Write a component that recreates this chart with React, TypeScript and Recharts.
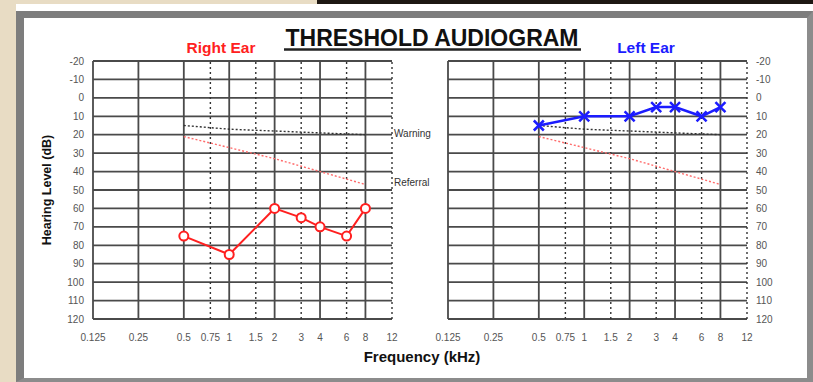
import React from "react";
import { LineChart, Line, XAxis, YAxis, CartesianGrid, ReferenceLine } from "recharts";

const FREQ_TICKS = [0.125, 0.25, 0.5, 0.75, 1, 1.5, 2, 3, 4, 6, 8, 12];
const OCTAVE_LINES = [0.125, 0.25, 0.5, 1, 2, 4, 8];
const HALF_OCTAVE_LINES = [0.75, 1.5, 3, 6, 12];
const DB_TICKS = [-20, -10, 0, 10, 20, 30, 40, 50, 60, 70, 80, 90, 100, 110, 120];

const RIGHT_EAR_FREQ = [0.5, 1, 2, 3, 4, 6, 8];
const RIGHT_EAR_DB = [75, 85, 60, 65, 70, 75, 60];

const LEFT_EAR_FREQ = [0.5, 1, 2, 3, 4, 6, 8];
const LEFT_EAR_DB = [15, 10, 10, 5, 5, 10, 5];

const WARNING_FREQ = [0.5, 1, 2, 4, 8];
const WARNING_DB = [15, 17, 18, 19, 20];

const REFERRAL_FREQ = [0.5, 1, 2, 4, 8];
const REFERRAL_DB = [21, 27, 33, 40, 47];

const FONT = "Arial, 'Liberation Sans', sans-serif";
const GRID = "#4a4a4a";

const toPoints = (freq: number[], db: number[]) => freq.map((f, i) => ({ f, db: db[i] }));

const rightEar = toPoints(RIGHT_EAR_FREQ, RIGHT_EAR_DB);
const leftEar = toPoints(LEFT_EAR_FREQ, LEFT_EAR_DB);
const warning = toPoints(WARNING_FREQ, WARNING_DB);
const referral = toPoints(REFERRAL_FREQ, REFERRAL_DB);

const tickStyle = { fontSize: 10, fill: "#555", fontFamily: FONT };

function CrossDot(props: any) {
  const { cx, cy, index } = props;
  if (cx == null || cy == null) return <g key={index} />;
  const s = 5;
  return (
    <path
      key={index}
      d={`M${cx - s},${cy - s}L${cx + s},${cy + s}M${cx + s},${cy - s}L${cx - s},${cy + s}`}
      stroke="#1c1cff"
      strokeWidth={2.5}
      fill="none"
    />
  );
}

interface PanelProps {
  side: "left" | "right";
  width: number;
  margin: { top: number; right: number; bottom: number; left: number };
}

function Panel({ side, width, margin }: PanelProps) {
  const isRight = side === "right";
  return (
    <LineChart width={width} height={382} margin={margin}>
      <CartesianGrid horizontal vertical={false} stroke={GRID} strokeWidth={1.8} />
      <XAxis
        type="number"
        dataKey="f"
        scale="log"
        domain={[0.125, 12]}
        ticks={FREQ_TICKS}
        interval={0}
        allowDataOverflow
        axisLine={false}
        tickLine={false}
        tickMargin={9}
        tick={tickStyle}
        height={30}
      />
      <YAxis
        type="number"
        dataKey="db"
        domain={[-20, 120]}
        ticks={DB_TICKS}
        interval={0}
        reversed
        orientation={isRight ? "right" : "left"}
        axisLine={false}
        tickLine={false}
        tickMargin={3}
        tick={tickStyle}
        width={40}
      />
      {OCTAVE_LINES.map((f) => (
        <ReferenceLine key={`o${f}`} x={f} stroke={GRID} strokeWidth={1.8} ifOverflow="visible" />
      ))}
      {HALF_OCTAVE_LINES.map((f) => (
        <ReferenceLine
          key={`h${f}`}
          x={f}
          stroke="#333"
          strokeWidth={1.4}
          strokeDasharray="2 3"
          ifOverflow="visible"
        />
      ))}
      <Line
        data={warning}
        dataKey="db"
        stroke="#333"
        strokeWidth={1.4}
        strokeDasharray="2 2"
        dot={false}
        isAnimationActive={false}
      />
      <Line
        data={referral}
        dataKey="db"
        stroke="#ff6b6b"
        strokeWidth={1.4}
        strokeDasharray="2 2"
        dot={false}
        isAnimationActive={false}
      />
      {isRight ? (
        <Line
          data={leftEar}
          dataKey="db"
          stroke="#1c1cff"
          strokeWidth={2.5}
          dot={<CrossDot />}
          isAnimationActive={false}
        />
      ) : (
        <Line
          data={rightEar}
          dataKey="db"
          stroke="#ff2020"
          strokeWidth={2}
          dot={{ r: 4.5, stroke: "#ff2020", strokeWidth: 2, fill: "#fff" }}
          isAnimationActive={false}
        />
      )}
    </LineChart>
  );
}

export default function App() {
  return (
    <div
      style={{
        position: "absolute",
        left: 0,
        top: 0,
        width: 813,
        height: 382,
        background: "#e8dcc4",
        overflow: "hidden",
        fontFamily: FONT,
      }}
    >
      <div style={{ position: "absolute", left: 317, top: 0, width: 496, height: 4, background: "#1d1712" }} />
      <div style={{ position: "absolute", left: 16, top: 4, width: 797, height: 378, background: "#fff" }} />
      <div
        style={{
          position: "absolute",
          left: 16,
          top: 11,
          width: 797,
          height: 371,
          boxSizing: "border-box",
          borderLeft: "8px solid #7d7d7d",
          borderTop: "7px solid #7d7d7d",
          borderRight: "6px solid #8c8c8c",
          borderBottom: "4px solid #8c8c8c",
          background: "#fff",
        }}
      />
      <div style={{ position: "absolute", left: 0, top: 0 }}>
        <Panel side="left" width={420} margin={{ top: 61, right: 28, bottom: 33, left: 53 }} />
      </div>
      <div style={{ position: "absolute", left: 400, top: 0 }}>
        <Panel side="right" width={413} margin={{ top: 61, right: 26, bottom: 33, left: 48 }} />
      </div>
      <svg
        width={813}
        height={382}
        style={{ position: "absolute", left: 0, top: 0, pointerEvents: "none" }}
        fontFamily={FONT}
      >
        <text x={432} y={46} textAnchor="middle" fontSize={23} fontWeight="bold" fill="#111">
          THRESHOLD AUDIOGRAM
        </text>
        <line x1={284} x2={581} y1={49.5} y2={49.5} stroke="#222" strokeWidth={2.5} />
        <text x={221} y={53} textAnchor="middle" fontSize={15.5} fontWeight="bold" fill="#ff2020">
          Right Ear
        </text>
        <text x={646} y={53} textAnchor="middle" fontSize={15.5} fontWeight="bold" fill="#1c1cff">
          Left Ear
        </text>
        <text
          x={0}
          y={0}
          transform="translate(51,190) rotate(-90)"
          textAnchor="middle"
          fontSize={12.5}
          fontWeight="bold"
          fill="#111"
        >
          Hearing Level (dB)
        </text>
        <text x={422} y={362} textAnchor="middle" fontSize={15} fontWeight="bold" fill="#111">
          Frequency (kHz)
        </text>
        <text x={394} y={136.5} fontSize={10} fill="#333">
          Warning
        </text>
        <text x={394} y={185.5} fontSize={10} fill="#333">
          Referral
        </text>
      </svg>
    </div>
  );
}
